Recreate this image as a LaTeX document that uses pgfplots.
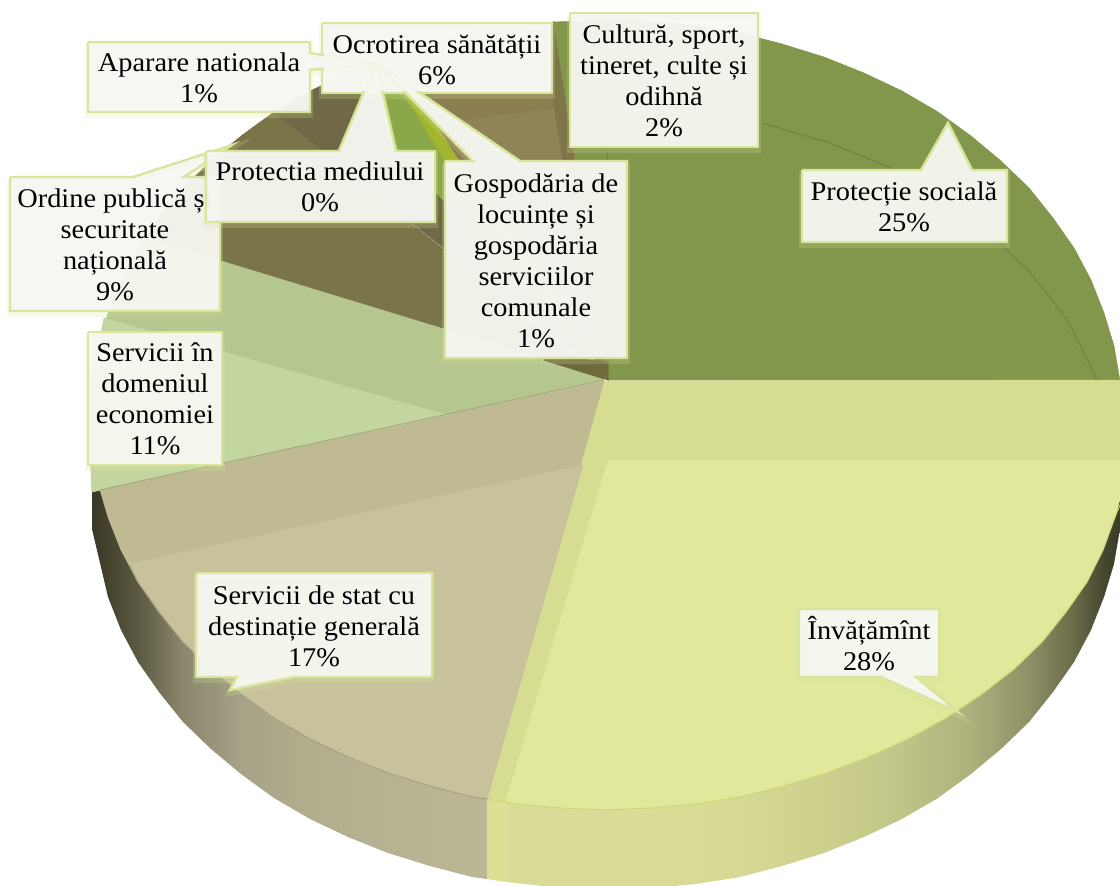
\documentclass[border=0pt]{standalone}
\usepackage{pgfplots}
\pgfplotsset{compat=1.18}
\usepackage{fontspec}
\setmainfont[FakeStretch=1.05]{Liberation Serif}
\definecolor{prot}{HTML}{82964C}
\definecolor{protline}{HTML}{6F8240}
\definecolor{invb}{HTML}{D6DD90}
\definecolor{invm}{HTML}{E1E89C}
\definecolor{invedge}{HTML}{CDD770}
\definecolor{statb}{HTML}{BFBA92}
\definecolor{statm}{HTML}{C7C29C}
\definecolor{statedge}{HTML}{A5A182}
\definecolor{domb}{HTML}{B5C68E}
\definecolor{domm}{HTML}{C3D6A0}
\definecolor{domedge}{HTML}{A3A77C}
\definecolor{ord}{HTML}{7A7449}
\definecolor{ocr}{HTML}{6F6A45}
\definecolor{apar}{HTML}{8AA84A}
\definecolor{gosp}{HTML}{A3B52E}
\definecolor{cult}{HTML}{8B7D52}
\definecolor{cultb}{HTML}{8F8358}
\definecolor{cultd}{HTML}{807449}
\definecolor{apexd}{HTML}{6F6A3C}
\definecolor{k0}{HTML}{3A3826}
\definecolor{k1}{HTML}{45432E}
\definecolor{k2}{HTML}{5C5A42}
\definecolor{k3}{HTML}{8A876C}
\definecolor{k4}{HTML}{A6A287}
\definecolor{k5}{HTML}{B2AE8D}
\definecolor{k6}{HTML}{B6B292}
\definecolor{k7}{HTML}{BCB795}
\definecolor{m0}{HTML}{DCE093}
\definecolor{m1}{HTML}{DADB97}
\definecolor{m2}{HTML}{D6D994}
\definecolor{m3}{HTML}{CDD08D}
\definecolor{m4}{HTML}{C0C487}
\definecolor{m5}{HTML}{ADB07C}
\definecolor{m6}{HTML}{8F9066}
\definecolor{m7}{HTML}{6A6B48}
\definecolor{m8}{HTML}{46472F}
\definecolor{m9}{HTML}{3A3B27}
\definecolor{boxf}{HTML}{F6F7F1}
\definecolor{boxb}{HTML}{D9E59C}
\newcommand\poly[2]{\addplot[fill=#1,draw=#1,line width=.5pt] coordinates {#2};}
\newcommand\wall[3]{\addplot[left color=#1,right color=#2,draw=none] coordinates {#3};}
\newcommand\edge[2]{\addplot[draw=#1,line width=1pt] coordinates {#2};}
\newcommand\callout[1]{%
  \addplot[draw=boxb,line width=6pt,opacity=.22,yshift=-3pt] coordinates {#1};
  \addplot[fill=boxf,fill opacity=.96,draw=boxb,line width=2.4pt,line join=miter] coordinates {#1};}
\newcommand\lab[3]{\node[align=center,font=\fontsize{27}{31}\selectfont,text=black,inner sep=0pt] at (axis cs:#1,#2) {#3};}
\begin{document}
\begin{tikzpicture}
\useasboundingbox (0,0) rectangle (1120pt,886pt);
\begin{axis}[scale only axis,width=1120pt,height=886pt,xmin=0,xmax=1120,ymin=0,ymax=886,y dir=reverse,hide axis]
% side wall, left part
\wall{k0}{k1}{(92,449)(108,517)(108,597)(92,529)(92,449)}
\wall{k1}{k2}{(108,517)(121,550)(138,582)(138,662)(121,630)(108,597)(108,517)}
\wall{k2}{k3}{(138,582)(159,612)(183,642)(183,722)(159,692)(138,662)(138,582)}
\wall{k3}{k4}{(183,642)(211,669)(241,694)(241,774)(211,749)(183,722)(183,642)}
\wall{k4}{k5}{(241,694)(274,718)(310,739)(310,819)(274,798)(241,774)(241,694)}
\wall{k5}{k6}{(310,739)(348,757)(388,773)(388,853)(348,837)(310,819)(310,739)}
\wall{k6}{k7}{(388,773)(430,786)(472,797)(487,799)(487,879)(472,877)(430,866)(388,853)(388,773)}
% side wall, right part
\wall{m0}{m0}{(487,799)(506,802)(506,882)(487,879)(487,799)}
\wall{m1}{m1}{(506,802)(561,808)(606,810)(651,808)(651,888)(606,890)(561,888)(506,882)(506,802)}
\wall{m1}{m2}{(651,808)(696,804)(740,797)(740,877)(696,884)(651,888)(651,808)}
\wall{m2}{m3}{(740,797)(782,786)(824,773)(824,853)(782,866)(740,877)(740,797)}
\wall{m3}{m4}{(824,773)(864,757)(902,739)(902,819)(864,837)(824,853)(824,773)}
\wall{m4}{m5}{(902,739)(938,718)(971,694)(971,774)(938,798)(902,819)(902,739)}
\wall{m5}{m6}{(971,694)(1001,669)(1029,642)(1029,722)(1001,749)(971,774)(971,694)}
\wall{m6}{m7}{(1029,642)(1053,612)(1074,582)(1074,662)(1053,692)(1029,722)(1029,642)}
\wall{m7}{m8}{(1074,582)(1091,550)(1104,517)(1104,597)(1091,630)(1074,662)(1074,582)}
\wall{m8}{m9}{(1104,517)(1114,484)(1120,449)(1120,529)(1114,564)(1104,597)(1104,517)}
% top surface
\poly{prot}{(608,380)(1120,380)(1120,381)(1114,346)(1104,313)(1091,280)(1074,248)(1053,218)(1029,188)(1001,161)(971,136)(938,112)(902,91)(864,73)(824,57)(782,44)(740,33)(696,26)(651,21)(606,20)(553,22)(608,380)}
\edge{protline}{(762,123)(830,143)(891,168)(950,205)(997,241)(1026,268)(1050,297)(1067,320)(1080,345)(1097,380)}
\edge{protline}{(607,150)(608,380)}
\poly{invb}{(604,381)(1122,380)(1123,449)(1124,484)(1115,517)(1103,550)(1087,582)(1066,612)(1042,642)(1014,669)(982,694)(946,718)(908,739)(868,757)(827,773)(784,786)(740,797)(696,804)(651,808)(606,810)(561,808)(516,804)(487,799)(604,381)}
\poly{invm}{(608,460)(1122,460)(1124,484)(1115,517)(1103,550)(1087,582)(1066,612)(1042,642)(1014,669)(982,694)(946,718)(908,739)(868,757)(827,773)(784,786)(740,797)(696,804)(651,808)(606,810)(561,808)(516,804)(506,801)(608,460)}
\edge{invedge}{(487,799)(516,804)(561,808)(606,810)(651,808)(696,804)(740,797)(784,786)(827,773)(868,757)(908,739)(946,718)(982,694)(1014,669)(1042,642)(1066,612)(1087,582)(1103,550)(1115,517)(1120,505)}
\poly{statb}{(604,381)(100,490)(108,517)(121,550)(138,582)(159,612)(183,642)(211,669)(241,694)(274,718)(310,739)(348,757)(388,773)(430,786)(472,797)(487,799)(604,381)}
\poly{statm}{(583,465)(129,564)(138,582)(159,612)(183,642)(211,669)(241,694)(274,718)(310,739)(348,757)(388,773)(430,786)(472,797)(487,799)(583,465)}
\edge{statedge}{(129,564)(138,582)(159,612)(183,642)(211,669)(241,694)(274,718)(310,739)(348,757)(388,773)(430,786)(472,797)(487,799)}
\poly{domb}{(604,378)(145,237)(138,248)(121,280)(108,313)(98,346)(92,381)(90,415)(91,470)(92,492)(100,490)(604,380)(604,378)}
\poly{domm}{(447,415)(104,318)(98,346)(92,381)(90,415)(91,470)(92,492)(100,490)(447,415)}
\edge{domedge}{(100,490)(604,380)}
\poly{ord}{(600,376)(145,237)(159,218)(183,188)(211,161)(241,136)(274,112)(600,376)}
\poly{ocr}{(608,380)(274,112)(310,91)(348,73)(362,68)(397,150)(608,380)}
\poly{apar}{(608,380)(397,150)(362,68)(384,60)(443,158)(608,380)}
\poly{gosp}{(608,380)(443,158)(384,60)(396,55)(418,95)(458,158)(608,380)}
\poly{cult}{(608,380)(458,158)(418,95)(396,55)(430,44)(472,33)(516,26)(553,22)(608,380)}
\poly{cultb}{(460,121)(566,107)(608,380)(460,121)}
\poly{cultd}{(553,22)(608,380)(597,370)(553,100)(553,22)}
\poly{apexd}{(543,360)(570,358)(608,362)(608,380)(601,378)(543,360)}
% labels
\callout{(322,23)(552,23)(552,93)(322,93)(322,23)}
\callout{(88,42)(310,42)(310,53)(376,63)(310,70)(310,112)(88,112)(88,42)}
\callout{(10,177)(133,177)(232,145)(184,177)(220,177)(220,311)(10,311)(10,177)}
\lab{115}{245}{Ordine publică și\\securitate\\națională\\9\%}
\callout{(206,151)(339,151)(376,63)(396,151)(435,151)(435,222)(206,222)(206,151)}
\callout{(445,161)(473,161)(376,63)(520,161)(627,161)(627,358)(445,358)(445,161)}
\addplot[fill=boxf,fill opacity=.88,draw=none] coordinates {(324,25)(550,25)(550,91)(324,91)(324,25)};
\callout{(570,13)(758,13)(758,147)(570,147)(570,13)}
\callout{(88,332)(222,332)(222,465)(88,465)(88,332)}
\callout{(802,170)(921,170)(948,123)(972,170)(1007,170)(1007,242)(802,242)(802,170)}
\callout{(799,609)(939,609)(939,677)(916,677)(958,712)(881,677)(799,677)(799,609)}
\callout{(196,573)(432,573)(432,677)(294,677)(230,690)(237,677)(196,677)(196,573)}
\lab{199}{78}{Aparare nationala\\1\%}
\lab{437}{59.5}{Ocrotirea sănătății\\6\%}
\lab{664}{81}{Cultură, sport,\\tineret, culte și\\odihnă\\2\%}
\lab{536}{261}{Gospodăria de\\locuințe și\\gospodăria\\serviciilor\\comunale\\1\%}
\lab{320}{187}{Protectia mediului\\0\%}
\lab{155}{399}{Servicii în\\domeniul\\economiei\\11\%}
\lab{904}{207}{Protecție socială\\25\%}
\lab{869}{644}{Învățămînt\\28\%}
\lab{314}{626}{Servicii de stat cu\\destinație generală\\17\%}
\end{axis}
\end{tikzpicture}
\end{document}
